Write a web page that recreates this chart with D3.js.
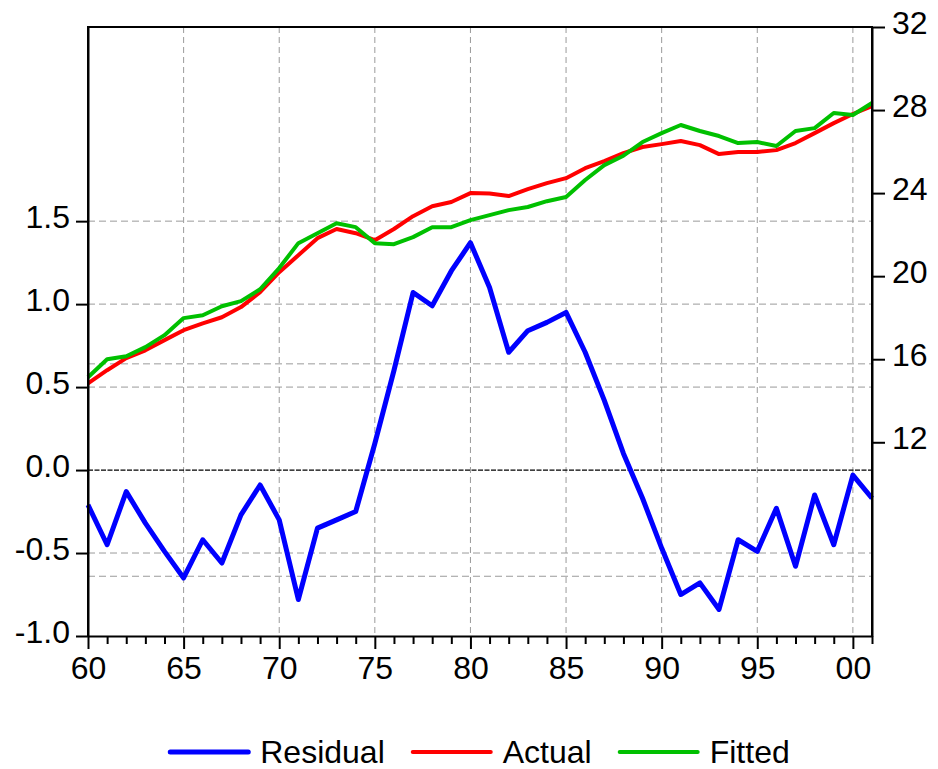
<!DOCTYPE html>
<html>
<head>
<meta charset="utf-8">
<script src="https://cdn.jsdelivr.net/npm/d3@7"></script>
<style>
    body { margin: 0; background: #fff; }
    text { font-family: "Liberation Sans", Arial, sans-serif; fill: #000; }
</style>
</head>
<body>
<div id="chart"></div>
<script>
var years = d3.range(1960, 2002);

var residual = [-0.21, -0.45, -0.13, -0.32, -0.49, -0.65, -0.42, -0.56, -0.27, -0.09,
    -0.30, -0.78, -0.35, -0.30, -0.25, 0.16, 0.60, 1.07, 0.99, 1.20,
    1.37, 1.10, 0.71, 0.84, 0.89, 0.95, 0.71, 0.42, 0.10, -0.17,
    -0.47, -0.75, -0.68, -0.84, -0.42, -0.49, -0.23, -0.58, -0.15, -0.45,
    -0.03, -0.17];

var actual = [14.84, 15.47, 16.05, 16.43, 16.92, 17.40, 17.73, 18.02, 18.51, 19.23,
    20.19, 21.01, 21.83, 22.27, 22.07, 21.73, 22.27, 22.89, 23.37, 23.57,
    24.00, 23.98, 23.86, 24.19, 24.48, 24.72, 25.20, 25.54, 25.93, 26.22,
    26.36, 26.51, 26.31, 25.88, 25.98, 25.98, 26.07, 26.41, 26.89, 27.37,
    27.81, 28.19];

var fitted = [15.13, 16.00, 16.14, 16.58, 17.16, 17.98, 18.12, 18.55, 18.80, 19.37,
    20.39, 21.59, 22.07, 22.55, 22.36, 21.59, 21.54, 21.88, 22.36, 22.36,
    22.70, 22.94, 23.18, 23.33, 23.61, 23.81, 24.63, 25.35, 25.80, 26.46,
    26.89, 27.28, 26.99, 26.75, 26.41, 26.46, 26.27, 26.99, 27.13, 27.86,
    27.76, 28.34];

// standard error band of the residual
var seBand = 0.64;

var leftTicks = [-1.0, -0.5, 0.0, 0.5, 1.0, 1.5],
    rightTicks = [12, 16, 20, 24, 28, 32],
    xMajorTicks = d3.range(1960, 2001, 5),
    xMinorTicks = d3.range(1960, 2002);

var seriesNames = ["Residual", "Actual", "Fitted"],
    seriesColors = ["#0000ff", "#ff0000", "#00c000"];

(function() {
    var margin = { top: 27, left: 88, right: 66, bottom: 133 },
        totalW = 938,
        totalH = 769,
        width = totalW - margin.left - margin.right,
        height = totalH - margin.top - margin.bottom,
        fontSize = "32px";

    var svg = d3.select("#chart")
        .append("svg")
        .attr("width", totalW)
        .attr("height", totalH);

    var g = svg.append("g")
        .attr("transform", "translate(" + margin.left + "," + margin.top + ")");

    var x = d3.scaleLinear().domain([1960, 2001]).range([0, width]);
    var yLeft = d3.scaleLinear().domain([-1.0, 2.67]).range([height, 0]);
    var yRight = d3.scaleLinear().domain([2.67, 32]).range([height, 0]);

    // grid
    var grid = g.append("g").attr("class", "grid");
    grid.selectAll(".vgrid")
        .data(xMajorTicks.filter(d => d > 1960))
        .enter().append("line")
        .attr("x1", d => x(d)).attr("x2", d => x(d))
        .attr("y1", 0).attr("y2", height)
        .attr("stroke", "#9a9a9a")
        .attr("stroke-width", 1)
        .attr("stroke-dasharray", "6,4");

    grid.selectAll(".hgrid")
        .data(leftTicks.filter(d => d !== 0 && d !== -1.0).concat([seBand, -seBand]))
        .enter().append("line")
        .attr("x1", 0).attr("x2", width)
        .attr("y1", d => yLeft(d)).attr("y2", d => yLeft(d))
        .attr("stroke", "#9a9a9a")
        .attr("stroke-width", 1)
        .attr("stroke-dasharray", "7,4");

    grid.append("line")
        .attr("x1", 0).attr("x2", width)
        .attr("y1", yLeft(0)).attr("y2", yLeft(0))
        .attr("stroke", "#000")
        .attr("stroke-width", 1.2)
        .attr("stroke-dasharray", "5,1.5");

    // lines
    var lineLeft = d3.line()
        .x((d, i) => x(years[i]))
        .y(d => yLeft(d));
    var lineRight = d3.line()
        .x((d, i) => x(years[i]))
        .y(d => yRight(d));

    g.append("path")
        .datum(residual)
        .attr("d", lineLeft)
        .attr("fill", "none")
        .attr("stroke", seriesColors[0])
        .attr("stroke-width", 5)
        .attr("stroke-linejoin", "round");

    g.append("path")
        .datum(actual)
        .attr("d", lineRight)
        .attr("fill", "none")
        .attr("stroke", seriesColors[1])
        .attr("stroke-width", 4)
        .attr("stroke-linejoin", "round");

    g.append("path")
        .datum(fitted)
        .attr("d", lineRight)
        .attr("fill", "none")
        .attr("stroke", seriesColors[2])
        .attr("stroke-width", 4)
        .attr("stroke-linejoin", "round");

    // axes
    var leftAxis = g.append("g")
        .call(d3.axisLeft(yLeft).tickValues(leftTicks).tickFormat(d => d.toFixed(1)).tickSize(12).tickSizeOuter(0).tickPadding(6));
    var rightAxis = g.append("g")
        .attr("transform", "translate(" + width + ",0)")
        .call(d3.axisRight(yRight).tickValues(rightTicks).tickSize(13).tickSizeOuter(0).tickPadding(7));
    var bottomAxis = g.append("g")
        .attr("transform", "translate(0," + height + ")")
        .call(d3.axisBottom(x).tickValues(xMajorTicks).tickFormat(d => String(d % 100).padStart(2, "0")).tickSize(13).tickSizeOuter(0).tickPadding(7));
    g.append("g")
        .attr("transform", "translate(0," + height + ")")
        .call(d3.axisBottom(x).tickValues(xMinorTicks.filter(d => d % 5 !== 0)).tickFormat("").tickSize(8).tickSizeOuter(0))
        .select(".domain").remove();

    [leftAxis, rightAxis, bottomAxis].forEach(function(a) {
        a.selectAll(".domain").attr("stroke", "#000").attr("stroke-width", 2);
        a.selectAll(".tick text")
            .style("font-family", "'Liberation Sans', Arial, sans-serif")
            .style("font-size", fontSize)
            .attr("fill", "#000");
    });
    g.selectAll(".tick line").attr("stroke", "#000").attr("stroke-width", 2);
    leftAxis.selectAll(".tick text").attr("dy", "0.2em");
    rightAxis.selectAll(".tick text").attr("dy", "0.2em");

    // frame
    g.append("line")
        .attr("x1", -1).attr("x2", width + 1)
        .attr("y1", 0).attr("y2", 0)
        .attr("stroke", "#000").attr("stroke-width", 2);
    g.append("line")
        .attr("x1", 0).attr("x2", 0)
        .attr("y1", 0).attr("y2", height)
        .attr("stroke", "#000").attr("stroke-width", 2);
    g.append("line")
        .attr("x1", width).attr("x2", width)
        .attr("y1", 0).attr("y2", height)
        .attr("stroke", "#000").attr("stroke-width", 2);

    // legend
    var legend = svg.append("g");
    var lineLen = 78, textGap = 12, itemGap = 28, pos = 0;
    seriesNames.forEach(function(name, i) {
        var it = legend.append("g");
        it.append("line")
            .attr("x1", 0).attr("x2", lineLen)
            .attr("y1", 0).attr("y2", 0)
            .attr("stroke", seriesColors[i])
            .attr("stroke-width", i === 0 ? 5 : 4)
            .attr("stroke-linecap", "round");
        var t = it.append("text")
            .attr("x", lineLen + textGap)
            .attr("y", 11)
            .style("font-size", fontSize)
            .text(name);
        var w = lineLen + textGap + t.node().getComputedTextLength();
        it.attr("transform", "translate(" + pos + ",0)");
        pos += w + itemGap;
    });
    var total = pos - itemGap;
    legend.attr("transform", "translate(" + (margin.left + width / 2 - total / 2) + ",752)");
})();
</script>
</body>
</html>
